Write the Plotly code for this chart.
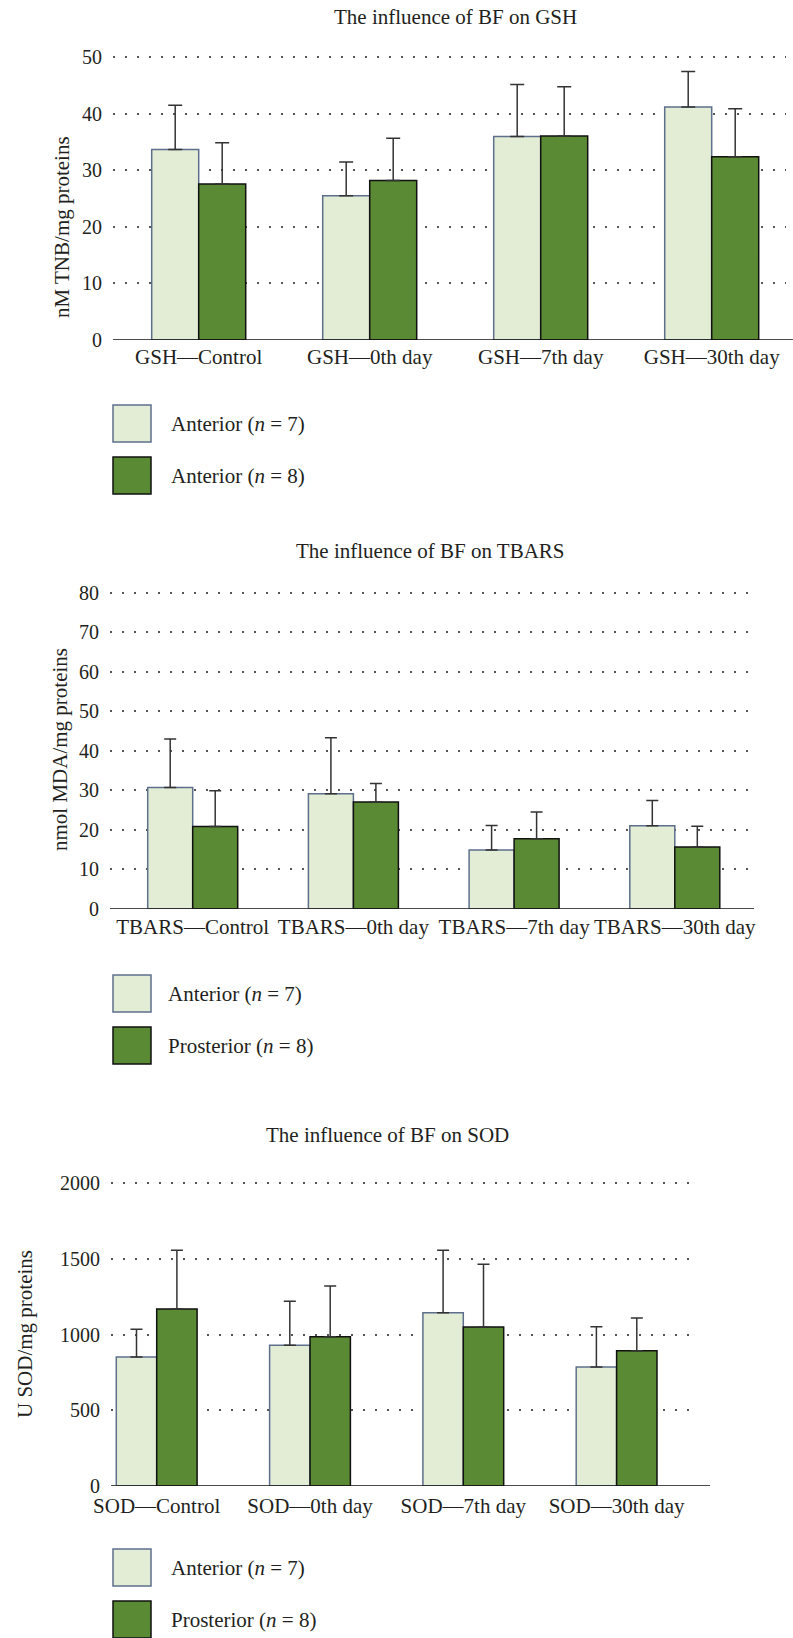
import plotly.graph_objects as go

PAGE_W, PAGE_H = 793, 1638
OX, OY = 0, 0
W, H = PAGE_W - 2 * OX, PAGE_H - 2 * OY

# ---------------- data ----------------
gsh_categories = ["GSH—Control", "GSH—0th day", "GSH—7th day", "GSH—30th day"]
gsh_anterior = [33.7, 25.5, 36.0, 41.2]
gsh_anterior_sd = [7.8, 6.0, 9.2, 6.3]
gsh_posterior = [27.6, 28.2, 36.1, 32.4]
gsh_posterior_sd = [7.3, 7.5, 8.7, 8.5]
gsh_ticks = [0, 10, 20, 30, 40, 50]

tbars_categories = ["TBARS—Control", "TBARS—0th day", "TBARS—7th day", "TBARS—30th day"]
tbars_anterior = [30.7, 29.1, 14.9, 21.0]
tbars_anterior_sd = [12.3, 14.2, 6.2, 6.4]
tbars_posterior = [20.8, 27.0, 17.7, 15.6]
tbars_posterior_sd = [9.1, 4.7, 6.8, 5.3]
tbars_ticks = [0, 10, 20, 30, 40, 50, 60, 70, 80]

sod_categories = ["SOD—Control", "SOD—0th day", "SOD—7th day", "SOD—30th day"]
sod_anterior = [851, 929, 1145, 785]
sod_anterior_sd = [184, 291, 412, 267]
sod_posterior = [1169, 986, 1050, 893]
sod_posterior_sd = [388, 335, 415, 216]
sod_ticks = [0, 500, 1000, 1500, 2000]

titles = ["The influence of BF on GSH", "The influence of BF on TBARS", "The influence of BF on SOD"]
y_titles = ["nM TNB/mg proteins", "nmol MDA/mg proteins", "U SOD/mg proteins"]
legend_labels = [
    ["Anterior (<i>n</i> = 7)", "Anterior (<i>n</i> = 8)"],
    ["Anterior (<i>n</i> = 7)", "Prosterior (<i>n</i> = 8)"],
    ["Anterior (<i>n</i> = 7)", "Prosterior (<i>n</i> = 8)"],
]

# ---------------- styles / layout geometry (page pixels) ----------------
FONT = "Liberation Serif"
TXT = "#231f20"
FS = 21
ANT_FILL, ANT_LINE = "#e3ecd4", "#5d6f8c"
POS_FILL, POS_LINE = "#5a8a33", "#111111"

panels = [
    dict(cats=gsh_categories, a=gsh_anterior, asd=gsh_anterior_sd, p=gsh_posterior, psd=gsh_posterior_sd,
         ticks=gsh_ticks, y0=340.0, ytick_top=50, ytick_top_px=57.3, ymax=51,
         xd=(113, 786), xend=793, c0=198.7, sp=171.0, barpx=47, cap=7, xstand=2,
         title=(455, 17), ytitle=(62, 227), leg_y=(405, 457), leg_tx=169),
    dict(cats=tbars_categories, a=tbars_anterior, asd=tbars_anterior_sd, p=tbars_posterior, psd=tbars_posterior_sd,
         ticks=tbars_ticks, y0=908.7, ytick_top=80, ytick_top_px=592.9, ymax=81,
         xd=(110, 748), xend=754, c0=192.7, sp=160.7, barpx=45, cap=6, xstand=3,
         title=(430, 551), ytitle=(60, 750), leg_y=(975, 1027), leg_tx=166),
    dict(cats=sod_categories, a=sod_anterior, asd=sod_anterior_sd, p=sod_posterior, psd=sod_posterior_sd,
         ticks=sod_ticks, y0=1485.7, ytick_top=2000, ytick_top_px=1183.4, ymax=2050,
         xd=(111, 692), xend=710, c0=156.7, sp=153.3, barpx=40.4, cap=6, xstand=5,
         title=(387, 1135), ytitle=(25, 1334), leg_y=(1549, 1601), leg_tx=169),
]


def fx(p):
    return (p - OX) / W


def fy(p):
    return 1 - (p - OY) / H


fig = go.Figure()
shapes, annotations = [], []
layout = dict(width=W, height=H, margin=dict(l=0, r=0, t=0, b=0, autoexpand=False),
              paper_bgcolor="white", plot_bgcolor="white", showlegend=False,
              barmode="overlay", font=dict(family=FONT, size=FS, color=TXT))

for i, pn in enumerate(panels):
    k = "" if i == 0 else str(i + 1)
    xa, ya = "x" + k, "y" + k
    scale = (pn["y0"] - pn["ytick_top_px"]) / pn["ytick_top"]
    top_px = pn["y0"] - pn["ymax"] * scale
    r0 = -(pn["c0"] - pn["xd"][0]) / pn["sp"]
    r1 = r0 + (pn["xd"][1] - pn["xd"][0]) / pn["sp"]
    w = pn["barpx"] / pn["sp"]

    for vals, sds, fill, line, off in [(pn["a"], pn["asd"], ANT_FILL, ANT_LINE, -w),
                                       (pn["p"], pn["psd"], POS_FILL, POS_LINE, 0.0)]:
        fig.add_trace(go.Bar(
            x=pn["cats"], y=vals, xaxis=xa, yaxis=ya, width=w, offset=off,
            marker=dict(color=fill, line=dict(color=line, width=1.5)),
            error_y=dict(type="data", array=sds, arrayminus=[0] * len(sds), symmetric=False,
                         color="#333333", thickness=1.5, width=pn["cap"]),
        ))

    layout["xaxis" + k] = dict(domain=[fx(pn["xd"][0]), min(1.0, fx(pn["xd"][1]))], anchor=ya,
                               automargin=False, type="category", range=[r0, r1], showgrid=False,
                               showline=False, zeroline=False, ticks="", ticklabelstandoff=pn["xstand"],
                               tickfont=dict(family=FONT, size=FS, color=TXT), fixedrange=True)
    layout["yaxis" + k] = dict(domain=[fy(pn["y0"]), fy(top_px)], anchor=xa, automargin=False,
                               range=[0, pn["ymax"]], tickvals=pn["ticks"], showgrid=True,
                               gridcolor="#555555", gridwidth=1.5, griddash="1.5px,10.5px",
                               showline=False, zeroline=False, ticks="", ticklabelstandoff=10,
                               tickfont=dict(family=FONT, size=20, color=TXT), fixedrange=True)

    # baseline (x axis line)
    shapes.append(dict(type="line", xref="paper", yref=ya, x0=fx(pn["xd"][0]), x1=min(1.0, fx(pn["xend"])),
                       y0=0, y1=0, line=dict(color="#111111", width=1.6), layer="above"))

    # title
    annotations.append(dict(text=titles[i], xref="paper", yref="paper", x=fx(pn["title"][0]),
                            y=fy(pn["title"][1]), xanchor="center", yanchor="middle", showarrow=False,
                            font=dict(family=FONT, size=FS, color=TXT)))
    # y title
    annotations.append(dict(text=y_titles[i], xref="paper", yref="paper", x=fx(pn["ytitle"][0]),
                            y=fy(pn["ytitle"][1]), xanchor="center", yanchor="middle", showarrow=False,
                            textangle=-90, font=dict(family=FONT, size=FS, color=TXT)))
    # legend
    for j, (fill, line) in enumerate([(ANT_FILL, ANT_LINE), (POS_FILL, POS_LINE)]):
        by = pn["leg_y"][j]
        shapes.append(dict(type="rect", xref="paper", yref="paper", x0=fx(113), x1=fx(151),
                           y0=fy(by), y1=fy(by + 37), fillcolor=fill, line=dict(color=line, width=1.5)))
        annotations.append(dict(text=legend_labels[i][j], xref="paper", yref="paper", x=fx(pn["leg_tx"]),
                                y=fy(by + 19), xanchor="left", yanchor="middle", showarrow=False,
                                font=dict(family=FONT, size=FS, color=TXT)))

layout["shapes"] = shapes
layout["annotations"] = annotations
fig.update_layout(**layout)
fig.write_html("out.html", config={"displayModeBar": False},
               post_script="document.body.style.margin='0';document.body.style.padding='0';")
